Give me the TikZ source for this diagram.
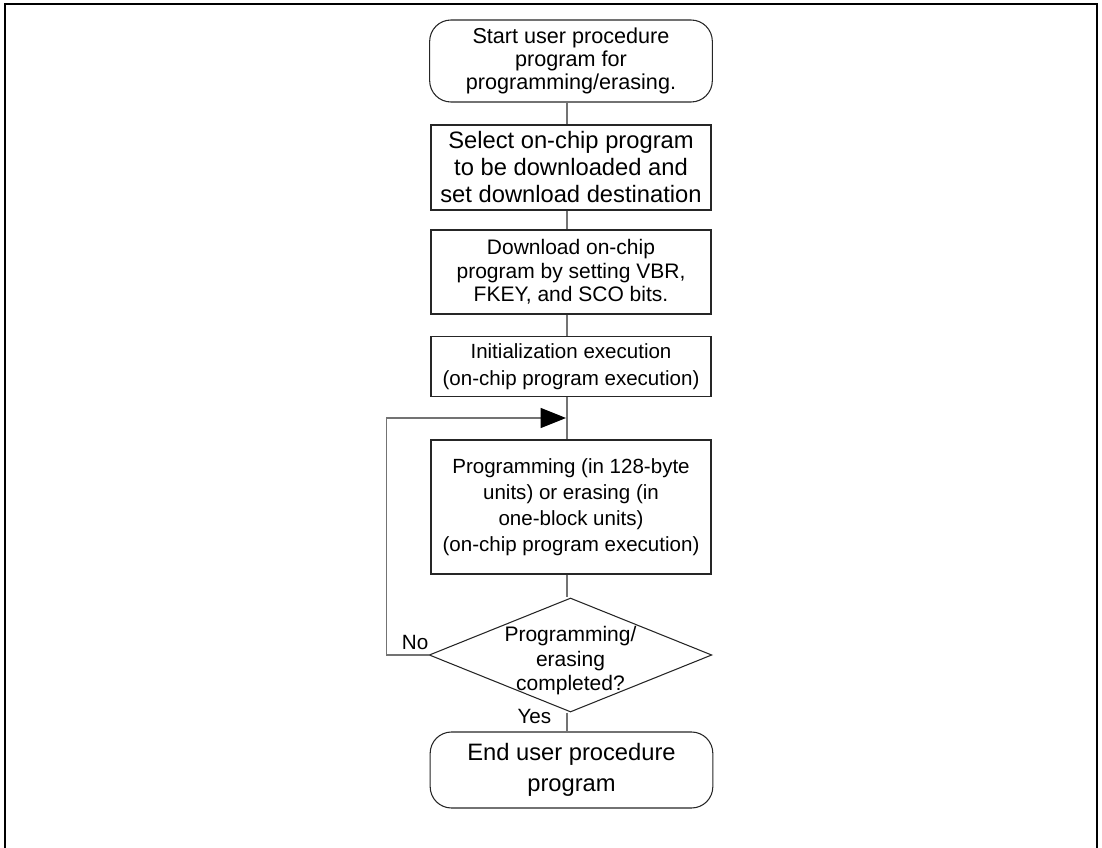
\documentclass[tikz,border=0pt]{standalone}
\usepackage{fontspec}
\setmainfont{Liberation Sans}
\usetikzlibrary{positioning,arrows.meta,shapes.geometric}

\begin{document}
\begin{tikzpicture}[x=0.75pt, y=-0.75pt,
  term/.style={draw=black!85, line width=0.8pt, rounded corners=16pt, minimum width=212pt, align=center, inner sep=0pt},
  proc/.style={draw=black!85, line width=0.8pt, minimum width=210pt, align=center, inner sep=0pt},
  dec/.style={draw=black!85, line width=0.8pt, diamond, minimum width=212pt, minimum height=85.5pt, inner sep=0pt},
  link/.style={draw=black!55, line width=0.9pt},
  arrow/.style={link, -{Triangle[length=19pt, width=15pt, color=black]}},
  lbl/.style={font=\fontsize{15.5}{18}\selectfont}
]
\useasboundingbox (0,0) rectangle (1102,848);
\draw[line width=1.6pt] (5,848) -- (5,4) -- (1097,4) -- (1097,848);

\node[term, minimum height=61.5pt, font=\fontsize{16.2}{17.3}\selectfont] (start) at (571,61)
  {Start user procedure\\program for\\programming/erasing.};
\node[proc, minimum height=63.75pt, font=\fontsize{17.8}{20.25}\selectfont] (select) at (571,167.5)
  {Select on-chip program\\to be downloaded and\\set download destination};
\node[proc, minimum height=63pt, font=\fontsize{15.75}{17.6}\selectfont] (download) at (571,272)
  {Download on-chip\\program by setting VBR,\\FKEY, and SCO bits.};
\node[proc, minimum height=45pt, font=\fontsize{15.4}{20}\selectfont] (init) at (571,366.5)
  {Initialization execution\\(on-chip program execution)};
\node[proc, minimum height=100.5pt, font=\fontsize{15.4}{19.5}\selectfont] (prog) at (571,507)
  {Programming (in 128-byte\\units) or erasing (in\\one-block units)\\(on-chip program execution)};
\node[dec, label={[align=center, yshift=-4.5pt, font=\fontsize{15.75}{18.4}\selectfont]center:Programming/\\erasing\\completed?}] (decide) at (570.5,655) {};
\node[term, minimum height=57pt, font=\fontsize{17.8}{23.25}\selectfont] (end) at (571.5,770)
  {End user procedure\\program};

\coordinate (axis) at (567,0);
\coordinate (join) at (566,418);

\draw[link] (start.south -| axis) -- (select.north -| axis);
\draw[link] (select.south -| axis) -- (download.north -| axis);
\draw[link] (download.south -| axis) -- (init.north -| axis);
\draw[link] (init.south -| axis) -- (prog.north -| axis);
\draw[link] (prog.south -| axis) -- (decide.north -| axis);
\draw[link] (decide.south -| axis) -- (end.north -| axis);
\draw[arrow] (decide.west) -- ++(-42,0) |- (join);

\node[lbl, anchor=base east] (no) at (433,649) {No};
\node[lbl, anchor=base east] (yes) at (556,723) {Yes};
\end{tikzpicture}
\end{document}
